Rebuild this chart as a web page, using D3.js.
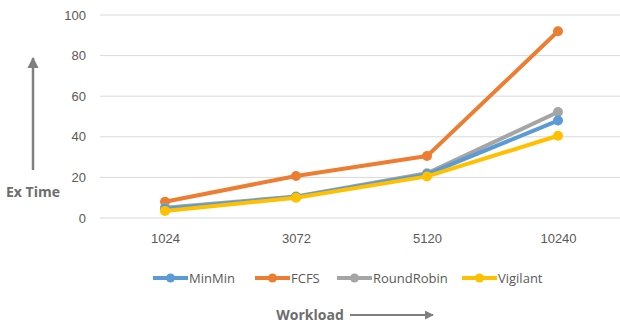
<!DOCTYPE html>
<html lang="en">
<head>
<meta charset="UTF-8">
<title>Ex Time vs Workload</title>
<script src="https://d3js.org/d3.v7.min.js"></script>
<style>
body{margin:0;background:#fff}
svg{display:block;font-family:"Open Sans","Liberation Sans",sans-serif}
.axis text{fill:#595959;font-size:13px}
.axis path,.axis line{stroke:none}
.grid line{stroke:#d9d9d9;stroke-width:1}
.label{fill:#6d6d6d;font-weight:bold;font-size:14px}
.legend text{fill:#595959;font-size:13px}
</style>
</head>
<body>
<div id="chart"></div>
<script>
var workloads = ['1024', '3072', '5120', '10240'];
var yTicks = [0, 20, 40, 60, 80, 100];
var seriesNames = ['MinMin', 'FCFS', 'RoundRobin', 'Vigilant'];
var minMin = [4.5, 10.3, 21.5, 48];
var fcfs = [8, 20.7, 30.5, 92];
var roundRobin = [5, 10.6, 22, 52.2];
var vigilant = [3.5, 10, 20.5, 40.5];
var colors = ['#5b9bd5', '#ed7d31', '#a5a5a5', '#ffc000'];

var W = 620, H = 327;
var svg = d3.select('#chart').append('svg').attr('width', W).attr('height', H);

var x = d3.scalePoint().domain(workloads).range([165, 558]);
var y = d3.scaleLinear().domain([0, 100]).range([218, 15]);

// gridlines
svg.append('g').attr('class', 'grid')
  .selectAll('line').data(yTicks).join('line')
  .attr('x1', 100).attr('x2', W)
  .attr('y1', function(d) { return y(d); })
  .attr('y2', function(d) { return y(d); });

// axes
svg.append('g').attr('class', 'axis').attr('transform', 'translate(86,0)')
  .call(d3.axisLeft(y).tickValues(yTicks).tickSize(0).tickPadding(0));
svg.append('g').attr('class', 'axis').attr('transform', 'translate(0,230)')
  .call(d3.axisBottom(x).tickSize(0).tickPadding(4));

// series
var series = [minMin, fcfs, roundRobin, vigilant];
var line = d3.line().x(function(d, i) { return x(workloads[i]); }).y(function(d) { return y(d); });

// draw fcfs first so the low lines sit on top in the picture order
var order = [1, 2, 0, 3];
order.forEach(function(k) {
  var g = svg.append('g');
  g.append('path').datum(series[k]).attr('d', line)
    .attr('fill', 'none').attr('stroke', colors[k]).attr('stroke-width', 4)
    .attr('stroke-linejoin', 'round');
  g.selectAll('circle').data(series[k]).join('circle')
    .attr('cx', function(d, i) { return x(workloads[i]); })
    .attr('cy', function(d) { return y(d); })
    .attr('r', 5).attr('fill', colors[k]);
});

// legend
var legendX = [153, 255, 337, 462];
var lg = svg.append('g').attr('class', 'legend');
seriesNames.forEach(function(name, k) {
  var gx = legendX[k];
  lg.append('line').attr('x1', gx).attr('x2', gx + 35).attr('y1', 278).attr('y2', 278)
    .attr('stroke', colors[k]).attr('stroke-width', 4);
  lg.append('circle').attr('cx', gx + 17.5).attr('cy', 278).attr('r', 4.5).attr('fill', colors[k]);
  lg.append('text').attr('x', gx + 36).attr('y', 278).attr('dy', '0.35em').text(name);
});

// axis titles with arrows
svg.append('defs').append('marker').attr('id', 'arr')
  .attr('viewBox', '0 0 10 10').attr('refX', 9).attr('refY', 5)
  .attr('markerWidth', 4.5).attr('markerHeight', 4.5).attr('orient', 'auto')
  .append('path').attr('d', 'M0,0L10,5L0,10Z').attr('fill', '#7f7f7f');

svg.append('text').attr('class', 'label').attr('x', 33).attr('y', 192)
  .attr('dy', '0.35em').attr('text-anchor', 'middle').text('Ex Time');
svg.append('line').attr('x1', 33).attr('x2', 33).attr('y1', 170).attr('y2', 58)
  .attr('stroke', '#7f7f7f').attr('stroke-width', 2.5).attr('marker-end', 'url(#arr)');

svg.append('text').attr('class', 'label').attr('x', 310).attr('y', 315)
  .attr('dy', '0.35em').attr('text-anchor', 'middle').text('Workload');
svg.append('line').attr('x1', 350).attr('x2', 433).attr('y1', 315).attr('y2', 315)
  .attr('stroke', '#7f7f7f').attr('stroke-width', 2).attr('marker-end', 'url(#arr)');
</script>
</body>
</html>
